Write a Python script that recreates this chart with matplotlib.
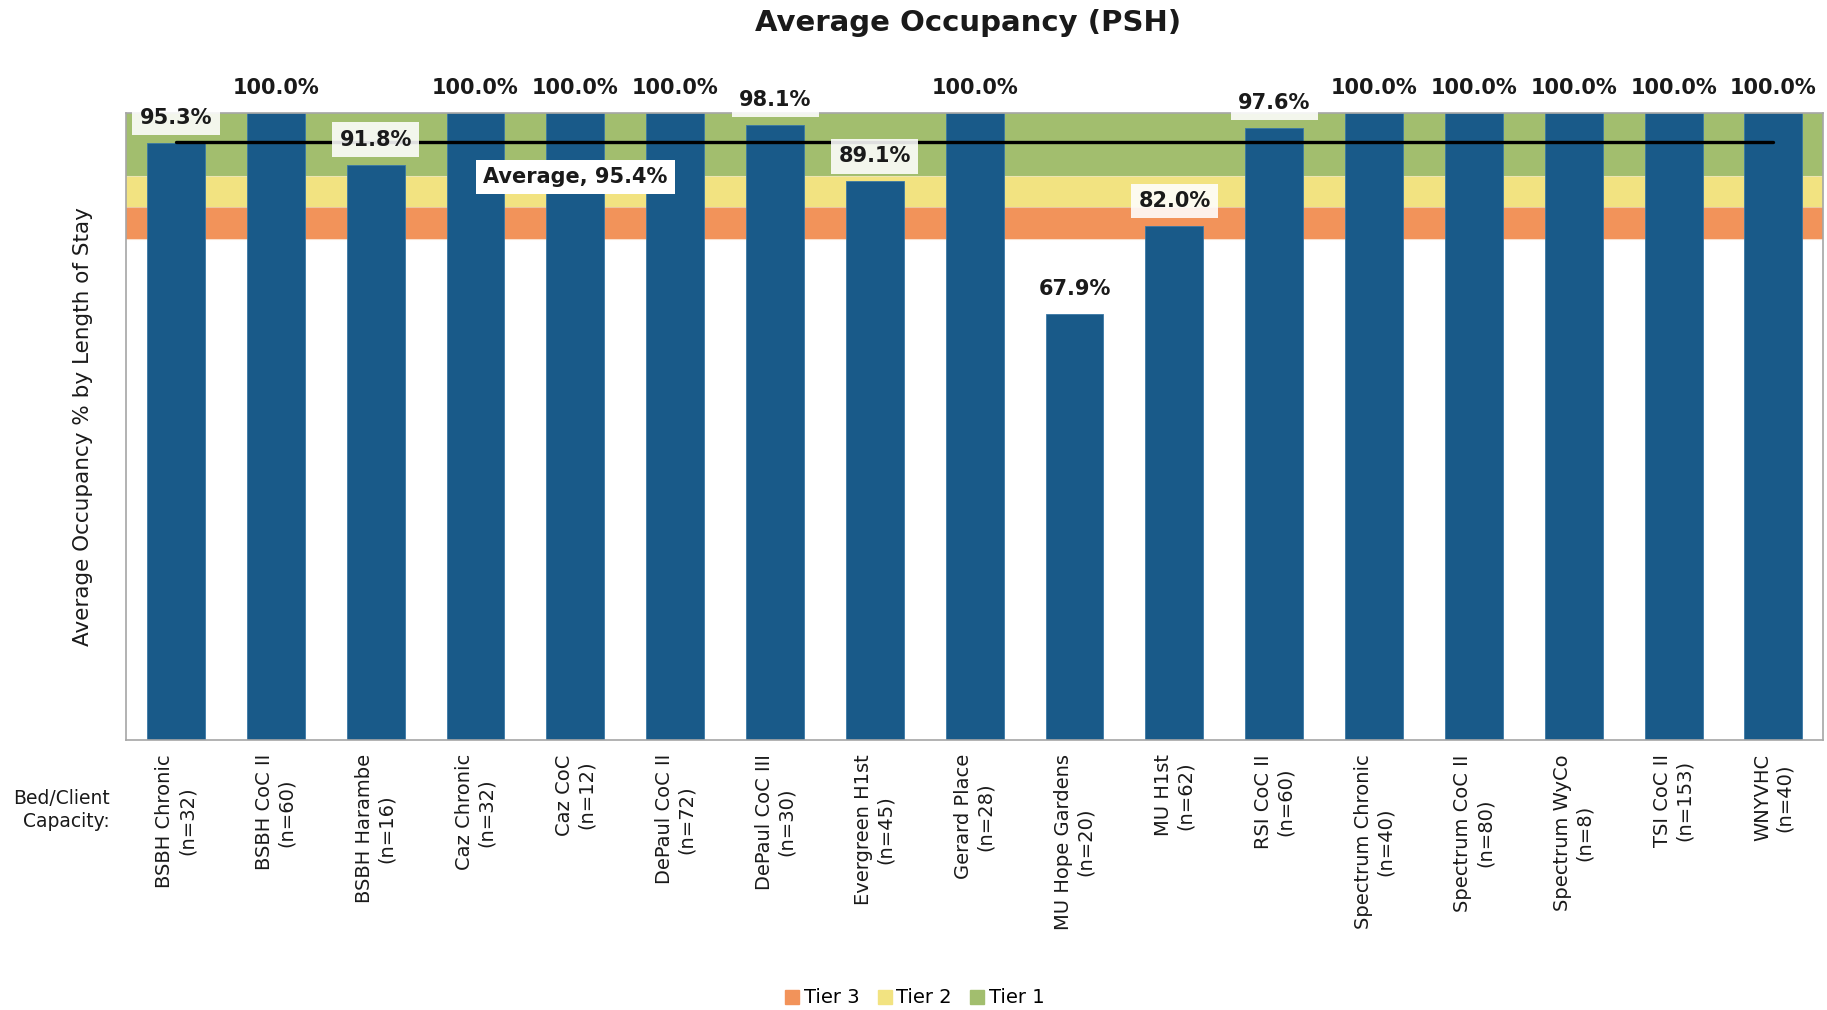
import matplotlib
matplotlib.use("Agg")
import matplotlib.pyplot as plt
from matplotlib.lines import Line2D

plt.rcParams['font.family'] = ['DejaVu Sans']

programs = ["BSBH Chronic", "BSBH CoC II", "BSBH Harambe", "Caz Chronic", "Caz CoC",
            "DePaul CoC II", "DePaul CoC III", "Evergreen H1st", "Gerard Place",
            "MU Hope Gardens", "MU H1st", "RSI CoC II", "Spectrum Chronic",
            "Spectrum CoC II", "Spectrum WyCo", "TSI CoC II", "WNYVHC"]
capacity = [32, 60, 16, 32, 12, 72, 30, 45, 28, 20, 62, 60, 40, 80, 8, 153, 40]
occupancy = [95.3, 100.0, 91.8, 100.0, 100.0, 100.0, 98.1, 89.1, 100.0,
             67.9, 82.0, 97.6, 100.0, 100.0, 100.0, 100.0, 100.0]
average = 95.4
tier_names = ["Tier 3", "Tier 2", "Tier 1"]
tier_bottoms = [80, 85, 90]
tier_tops = [85, 90, 100]
tier_colors = ["#F2935A", "#F2E381", "#A2BE6E"]

bar_color = "#195A89"
text_color = "#1A1A1A"

fig = plt.figure(figsize=(18.27, 10.10), dpi=100)
ax = fig.add_axes([0.069, 0.267, 0.929, 0.621])

x = list(range(len(programs)))

# tier bands
for name, b, t, c in zip(tier_names, tier_bottoms, tier_tops, tier_colors):
    ax.bar(x, [t - b] * len(x), bottom=b, width=1.0, color=c, edgecolor=c,
           linewidth=0, zorder=1)
    ax.axhline(b, color="#F5C9A8" if name == "Tier 3" else "#E8E8D0", lw=0.8, zorder=1.1, alpha=0.6)

# occupancy bars
ax.bar(x, occupancy, width=0.58, color=bar_color, edgecolor="#3A78A6", linewidth=0.6, zorder=2)

# average line
ax.plot([x[0], x[-1]], [average, average], color="black", lw=2.4, zorder=3,
        solid_capstyle='round')

# value labels
for xi, v in zip(x, occupancy):
    if v >= 99.95:
        bbox = None
    else:
        bbox = dict(boxstyle="square,pad=0.35", facecolor="white", edgecolor="none", alpha=0.88)
    ax.annotate(f"{v:.1f}%", xy=(xi, v), xytext=(0, 18), textcoords="offset points",
                ha="center", va="center", fontsize=15, fontweight="bold",
                color=text_color, bbox=bbox, zorder=5, annotation_clip=False)

ax.text(4.0, 89.8, f"Average, {average:.1f}%", ha="center", va="center", fontsize=15,
        fontweight="bold", color=text_color, zorder=5,
        bbox=dict(boxstyle="square,pad=0.35", facecolor="white", edgecolor="none"))

ax.set_xlim(-0.5, len(x) - 0.5)
ax.set_ylim(0, 100)
ax.set_yticks([])
ax.set_xticks(x)
ax.set_xticklabels([f"{p}\n(n={n})" for p, n in zip(programs, capacity)],
                   rotation=90, ha="center", va="top", multialignment="center",
                   fontsize=14, color=text_color)
ax.tick_params(axis="x", length=0, pad=10)
for s in ax.spines.values():
    s.set_color("#A6A6A6")
    s.set_linewidth(1.2)

ax.set_ylabel("Average Occupancy % by Length of Stay", fontsize=15.5, color=text_color, labelpad=24)

fig.text(0.0602, 0.198, "Bed/Client\nCapacity:", ha="right", va="center", fontsize=13.5,
         color=text_color, multialignment="right", linespacing=1.3)

fig.text(0.530, 0.977, "Average Occupancy (PSH)", ha="center", va="center", fontsize=21,
         fontweight="bold", color=text_color)

handles = [Line2D([], [], marker="s", linestyle="none", markersize=10,
                  markerfacecolor=c, markeredgecolor=c) for c in tier_colors]
fig.legend(handles, tier_names, loc="center", bbox_to_anchor=(0.5, 0.012), ncol=3,
           frameon=False, fontsize=14, handletextpad=0.1, columnspacing=0.8,
           handlelength=1.0)

fig.savefig("out.png", dpi=100)
